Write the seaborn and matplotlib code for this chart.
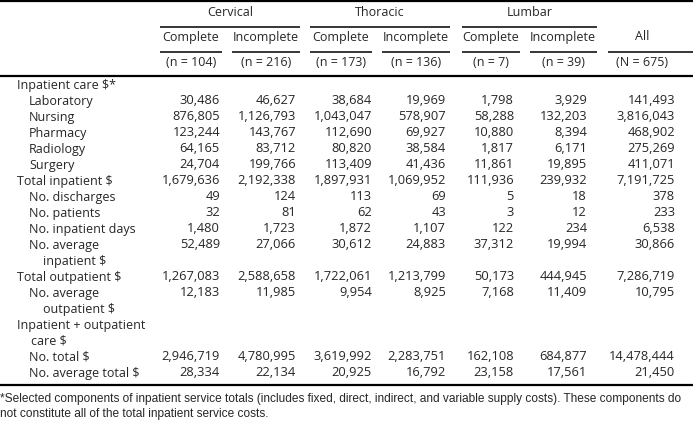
import matplotlib
matplotlib.use("Agg")
import matplotlib.pyplot as plt
import seaborn as sns

# column headers
groups = ["Cervical", "Thoracic", "Lumbar"]
sub_labels = ["Complete", "Incomplete", "Complete", "Incomplete", "Complete", "Incomplete", "All"]
n_labels = ["(n = 104)", "(n = 216)", "(n = 173)", "(n = 136)", "(n = 7)", "(n = 39)", "(N = 675)"]

# row labels (wrapped rows use \n) and indent level
row_labels = ["Inpatient care $*", "Laboratory", "Nursing", "Pharmacy", "Radiology", "Surgery",
              "Total inpatient $", "No. discharges", "No. patients", "No. inpatient days",
              "No. average\ninpatient $", "Total outpatient $", "No. average\noutpatient $",
              "Inpatient + outpatient\ncare $", "No. total $", "No. average total $"]
row_indent = [0, 1, 1, 1, 1, 1, 0, 1, 1, 1, 1, 0, 1, 0, 1, 1]

# values per column
cervical_complete = [None, 30486, 876805, 123244, 64165, 24704, 1679636, 49, 32, 1480, 52489,
                     1267083, 12183, None, 2946719, 28334]
cervical_incomplete = [None, 46627, 1126793, 143767, 83712, 199766, 2192338, 124, 81, 1723, 27066,
                       2588658, 11985, None, 4780995, 22134]
thoracic_complete = [None, 38684, 1043047, 112690, 80820, 113409, 1897931, 113, 62, 1872, 30612,
                     1722061, 9954, None, 3619992, 20925]
thoracic_incomplete = [None, 19969, 578907, 69927, 38584, 41436, 1069952, 69, 43, 1107, 24883,
                       1213799, 8925, None, 2283751, 16792]
lumbar_complete = [None, 1798, 58288, 10880, 1817, 11861, 111936, 5, 3, 122, 37312,
                   50173, 7168, None, 162108, 23158]
lumbar_incomplete = [None, 3929, 132203, 8394, 6171, 19895, 239932, 18, 12, 234, 19994,
                     444945, 11409, None, 684877, 17561]
all_patients = [None, 141493, 3816043, 468902, 275269, 411071, 7191725, 378, 233, 6538, 30866,
                7286719, 10795, None, 14478444, 21450]

footnote_lines = ["*Selected components of inpatient service totals (includes fixed, direct, indirect, "
                  "and variable supply costs). These components do",
                  "not constitute all of the total inpatient service costs."]

columns = [cervical_complete, cervical_incomplete, thoracic_complete, thoracic_incomplete,
           lumbar_complete, lumbar_incomplete, all_patients]

sns.set_theme(style="white")
plt.rcParams['font.family'] = ['Open Sans', 'DejaVu Sans']

W, H = 693, 423
fig = plt.figure(figsize=(W / 100, H / 100), dpi=100)
ax = fig.add_axes([0, 0, 1, 1])
ax.set_xlim(0, W)
ax.set_ylim(H, 0)
ax.axis('off')

fs = 9.0
fs_num = 9.3
col_center = [191, 266, 341, 416, 491, 563, 642]
col_right = [220, 296, 372, 446, 514, 587, 675]
sub_span = [(160, 222), (232, 300), (310, 372), (382, 450), (462, 520), (530, 597), (608, 693)]
group_span = [(160, 300), (310, 450), (462, 597)]

# rules
ax.hlines(1, 0, W, color='black', lw=1.6)
ax.hlines(76, 0, W, color='black', lw=1.6)
ax.hlines(385, 0, W, color='black', lw=1.6)

for g, (x0, x1) in zip(groups, group_span):
    ax.text((x0 + x1) / 2, 12, g, ha='center', va='center', fontsize=fs)
    ax.hlines(27, x0, x1, color='black', lw=1.1)

for s, n, xc, (x0, x1) in zip(sub_labels, n_labels, col_center, sub_span):
    ax.text(xc, 37, s, ha='center', va='center', fontsize=fs)
    ax.hlines(52, x0, x1, color='black', lw=1.1)
    ax.text(xc, 62, n, ha='center', va='center', fontsize=fs)

# body
y0, dy = 85, 16
line = 0
for i, (lab, ind) in enumerate(zip(row_labels, row_indent)):
    parts = lab.split("\n")
    y = y0 + dy * line
    x = 17 + 12 * ind
    ax.text(x, y, parts[0], ha='left', va='center', fontsize=fs)
    for k, p in enumerate(parts[1:], start=1):
        ax.text(x + 14, y0 + dy * (line + k), p, ha='left', va='center', fontsize=fs)
    for col, xr in zip(columns, col_right):
        v = col[i]
        if v is not None:
            ax.text(xr, y, f"{v:,}", ha='right', va='center', fontsize=fs_num)
    line += len(parts)

# footnote, sized so the first line fills the width
foot_font = ['Liberation Sans', 'DejaVu Sans']
t1 = ax.text(0, 399, footnote_lines[0], ha='left', va='center', fontsize=8, family=foot_font)
fig.canvas.draw()
w = t1.get_window_extent().width
fsz = 8 * 690 / w
t1.set_fontsize(fsz)
ax.text(0, 414, footnote_lines[1], ha='left', va='center', fontsize=fsz, family=foot_font)

fig.savefig("out.png", dpi=100, facecolor='white')
